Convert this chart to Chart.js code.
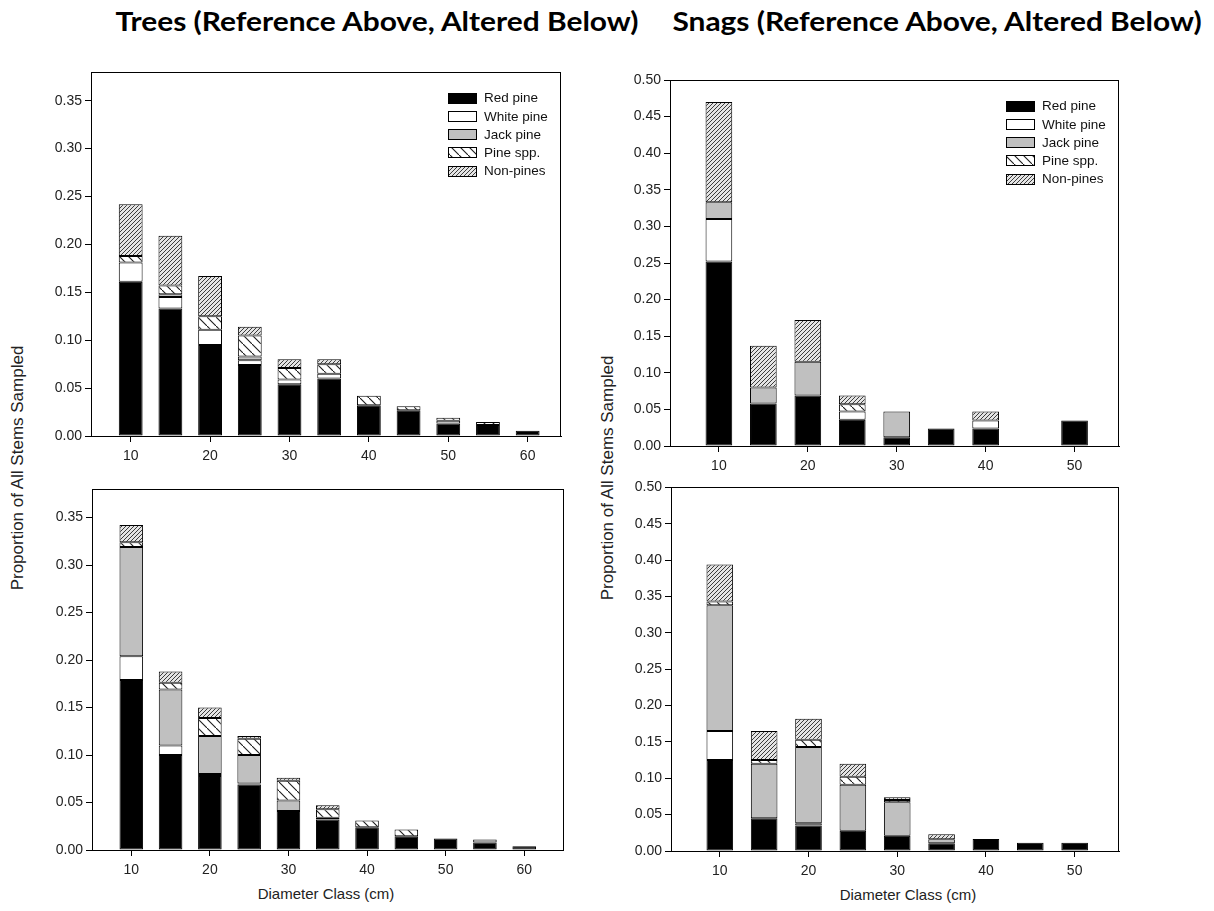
<!DOCTYPE html>
<html>
<head>
<meta charset="utf-8">
<script src="https://cdn.jsdelivr.net/npm/chart.js@4.4.1/dist/chart.umd.min.js"></script>
<style>
  html, body { margin: 0; padding: 0; background: #fff; }
  #page { position: relative; width: 1214px; height: 911px; overflow: hidden; }
  canvas { position: absolute; }
  .title {
    position: absolute; top: 5px; white-space: nowrap;
    font: bold 26px Lato, "Open Sans", sans-serif; color: #000;
    transform: translateX(-50%) scaleX(1.15);
  }
  .ylab, .xlab {
    position: absolute; white-space: nowrap;
    font-family: "Liberation Sans", Arial, sans-serif; color: #222;
  }
  .ylab { font-size: 17px; transform: translate(-50%, -50%) rotate(-90deg); }
  .xlab { font-size: 15px; transform: translate(-50%, -50%); }
</style>
</head>
<body>
<div id="page">
  <div class="title" style="left:377px">Trees (Reference Above, Altered Below)</div>
  <div class="title" style="left:937px">Snags (Reference Above, Altered Below)</div>
  <div class="ylab" style="left:18px; top:468px">Proportion of All Stems Sampled</div>
  <div class="ylab" style="left:608px; top:478px">Proportion of All Stems Sampled</div>
  <div class="xlab" style="left:326px; top:893px">Diameter Class (cm)</div>
  <div class="xlab" style="left:908px; top:894px">Diameter Class (cm)</div>
  <canvas id="treesRef" width="600" height="420" style="left:0; top:56px"></canvas>
  <canvas id="treesAlt" width="600" height="410" style="left:0; top:476px"></canvas>
  <canvas id="snagsRef" width="614" height="420" style="left:600px; top:56px"></canvas>
  <canvas id="snagsAlt" width="614" height="410" style="left:600px; top:476px"></canvas>
</div>
<script>
  // ---- data ----
  const SPECIES = ["Red pine", "White pine", "Jack pine", "Pine spp.", "Non-pines"];

  const TREE_CLASSES = [10, 15, 20, 25, 30, 35, 40, 45, 50, 55, 60];
  const SNAG_CLASSES = [10, 15, 20, 25, 30, 35, 40, 45, 50];

  const TREE_X_TICKS = [10, 20, 30, 40, 50, 60];
  const SNAG_X_TICKS = [10, 20, 30, 40, 50];
  const TREE_Y_TICKS = [0, 0.05, 0.10, 0.15, 0.20, 0.25, 0.30, 0.35];
  const SNAG_Y_TICKS = [0, 0.05, 0.10, 0.15, 0.20, 0.25, 0.30, 0.35, 0.40, 0.45, 0.50];

  // Trees, reference
  const treesRefRed   = [0.161, 0.133, 0.095, 0.074, 0.054, 0.060, 0.032, 0.027, 0.013, 0.0115, 0.0056];
  const treesRefWhite = [0.020, 0.012, 0.016, 0.005, 0.005, 0.005, null, null, 0.003, null, null];
  const treesRefJack  = [null, 0.003, null, 0.004, null, null, null, null, null, null, null];
  const treesRefSpp   = [0.007, 0.009, 0.014, 0.022, 0.012, 0.010, 0.010, 0.004, 0.003, 0.003, null];
  const treesRefNon   = [0.054, 0.052, 0.042, 0.009, 0.009, 0.005, null, null, null, null, null];

  // Trees, altered
  const treesAltRed   = [0.179, 0.100, 0.078, 0.069, 0.041, 0.032, 0.024, 0.0145, 0.012, 0.008, 0.004];
  const treesAltWhite = [0.025, 0.010, 0.002, 0.001, null, null, null, null, null, null, null];
  const treesAltJack  = [0.115, 0.059, 0.040, 0.030, 0.011, 0.002, null, null, null, 0.003, null];
  const treesAltSpp   = [0.005, 0.007, 0.019, 0.017, 0.021, 0.009, 0.007, 0.007, null, null, null];
  const treesAltNon   = [0.018, 0.012, 0.011, 0.003, 0.003, 0.004, null, null, null, null, null];

  // Snags, reference
  const snagsRefRed   = [0.252, 0.058, 0.069, 0.036, 0.012, 0.024, 0.024, null, 0.035];
  const snagsRefWhite = [0.058, null, null, 0.011, null, null, 0.011, null, null];
  const snagsRefJack  = [0.023, 0.022, 0.046, null, 0.035, null, null, null, null];
  const snagsRefSpp   = [null, null, null, 0.010, null, null, null, null, null];
  const snagsRefNon   = [0.137, 0.057, 0.057, 0.012, null, null, 0.012, null, null];

  // Snags, altered
  const snagsAltRed   = [0.125, 0.045, 0.035, 0.028, 0.021, 0.0105, 0.0165, 0.0115, 0.0115];
  const snagsAltWhite = [0.040, null, 0.003, null, null, null, null, null, null];
  const snagsAltJack  = [0.173, 0.075, 0.105, 0.063, 0.046, 0.0055, null, null, null];
  const snagsAltSpp   = [0.005, 0.005, 0.010, 0.011, 0.003, null, null, null, null];
  const snagsAltNon   = [0.051, 0.040, 0.029, 0.018, 0.004, 0.007, null, null, null];

  // ---- fills ----
  function makePattern(size, bg, draw) {
    const c = document.createElement("canvas");
    c.width = size; c.height = size;
    const g = c.getContext("2d");
    g.fillStyle = bg;
    g.fillRect(0, 0, size, size);
    draw(g, size);
    return g.createPattern(c, "repeat");
  }

  const sppFill = makePattern(9, "#ffffff", (g, s) => {
    g.strokeStyle = "#1a1a1a";
    g.lineWidth = 1.1;
    g.beginPath();
    g.moveTo(-1, -1); g.lineTo(s + 1, s + 1);
    g.stroke();
  });

  const nonFill = makePattern(4, "#e4e4e4", (g, s) => {
    g.strokeStyle = "#3c3c3c";
    g.lineWidth = 1;
    g.beginPath();
    g.moveTo(-1, s + 1); g.lineTo(s + 1, -1);
    g.moveTo(-1, 1); g.lineTo(1, -1);
    g.moveTo(s - 1, s + 1); g.lineTo(s + 1, s - 1);
    g.stroke();
  });

  const FILLS = ["#000000", "#ffffff", "#c0c0c0", sppFill, nonFill];

  const FONT = { family: "'Liberation Sans', Arial, sans-serif", size: 14 };
  const Y_AXIS_W = 50;
  const X_AXIS_H = 30;

  // ---- plugins ----
  const frame = {
    id: "frame",
    afterDatasetsDraw(chart) {
      const { ctx, chartArea: a } = chart;
      ctx.save();
      ctx.strokeStyle = "#000";
      ctx.lineWidth = 1;
      ctx.strokeRect(Math.round(a.left) + 0.5, Math.round(a.top) + 0.5,
        Math.round(a.right - a.left) - 1, Math.round(a.bottom - a.top));
      ctx.restore();
    }
  };

  const boxLegend = {
    id: "boxLegend",
    afterDraw(chart, args, opts) {
      if (!opts.show) return;
      const { ctx, chartArea } = chart;
      const x0 = Math.round(chartArea.right - opts.fromRight);
      let y = chartArea.top + opts.fromTop;
      ctx.save();
      ctx.font = "13.5px " + FONT.family;
      ctx.textBaseline = "middle";
      chart.data.datasets.forEach(ds => {
        const top = Math.round(y - 5.5);
        ctx.fillStyle = ds.backgroundColor;
        ctx.fillRect(x0, top, 29, 11);
        ctx.strokeStyle = "#000";
        ctx.lineWidth = 1;
        ctx.strokeRect(x0 + 0.5, top + 0.5, 28, 10);
        ctx.fillStyle = "#111";
        ctx.fillText(ds.label, x0 + 36, y + 0.5);
        y += 18.3;
      });
      ctx.restore();
    }
  };

  // ---- panels ----
  function renderPanel(id, box, area, classes, series, xRange, yMax, xTicks, yTicks, showLegend) {
    const canvas = document.getElementById(id);

    const datasets = series.map((vals, i) => ({
      label: SPECIES[i],
      data: classes.map((c, j) => ({ x: c, y: vals[j] })),
      backgroundColor: FILLS[i],
      borderColor: "#000",
      borderWidth: 1,
      borderSkipped: false,
      barPercentage: 0.6,
      categoryPercentage: 1
    }));

    const axisCommon = {
      stacked: true,
      offset: false,
      grid: { display: true, drawOnChartArea: false, drawTicks: true, tickLength: 6, color: "#000", offset: false },
      border: { display: true, color: "#000", width: 1 }
    };

    new Chart(canvas, {
      type: "bar",
      data: { datasets },
      options: {
        responsive: false,
        animation: false,
        events: [],
        layout: {
          padding: {
            left: area.left - box.left - Y_AXIS_W,
            top: area.top - box.top,
            right: box.left + box.width - area.right,
            bottom: box.top + box.height - area.bottom - X_AXIS_H
          }
        },
        scales: {
          x: {
            ...axisCommon,
            type: "linear",
            min: xRange[0],
            max: xRange[1],
            afterBuildTicks: s => { s.ticks = xTicks.map(v => ({ value: v })); },
            afterFit: s => { s.height = X_AXIS_H; },
            ticks: { font: FONT, color: "#222", padding: 6, maxRotation: 0, callback: v => String(v) }
          },
          y: {
            ...axisCommon,
            min: 0,
            max: yMax,
            afterBuildTicks: s => { s.ticks = yTicks.map(v => ({ value: v })); },
            afterFit: s => { s.width = Y_AXIS_W; },
            ticks: { font: FONT, color: "#222", padding: 3, callback: v => Number(v).toFixed(2) }
          }
        },
        plugins: {
          legend: { display: false },
          tooltip: { enabled: false },
          boxLegend: { show: showLegend, fromRight: 113, fromTop: 26 }
        }
      },
      plugins: [frame, boxLegend]
    });
  }

  renderPanel("treesRef",
    { left: 0, top: 56, width: 600, height: 420 },
    { left: 91, top: 72, right: 561, bottom: 436 },
    TREE_CLASSES,
    [treesRefRed, treesRefWhite, treesRefJack, treesRefSpp, treesRefNon],
    [5, 64.2], 0.38, TREE_X_TICKS, TREE_Y_TICKS, true);

  renderPanel("treesAlt",
    { left: 0, top: 476, width: 600, height: 410 },
    { left: 92, top: 489, right: 563.5, bottom: 850 },
    TREE_CLASSES,
    [treesAltRed, treesAltWhite, treesAltJack, treesAltSpp, treesAltNon],
    [5, 65], 0.38, TREE_X_TICKS, TREE_Y_TICKS, false);

  renderPanel("snagsRef",
    { left: 600, top: 56, width: 614, height: 420 },
    { left: 670, top: 80, right: 1119, bottom: 446 },
    SNAG_CLASSES,
    [snagsRefRed, snagsRefWhite, snagsRefJack, snagsRefSpp, snagsRefNon],
    [4.5, 55], 0.5, SNAG_X_TICKS, SNAG_Y_TICKS, true);

  renderPanel("snagsAlt",
    { left: 600, top: 476, width: 614, height: 410 },
    { left: 671, top: 486, right: 1119, bottom: 851 },
    SNAG_CLASSES,
    [snagsAltRed, snagsAltWhite, snagsAltJack, snagsAltSpp, snagsAltNon],
    [4.5, 55], 0.5, SNAG_X_TICKS, SNAG_Y_TICKS, false);
</script>
</body>
</html>
